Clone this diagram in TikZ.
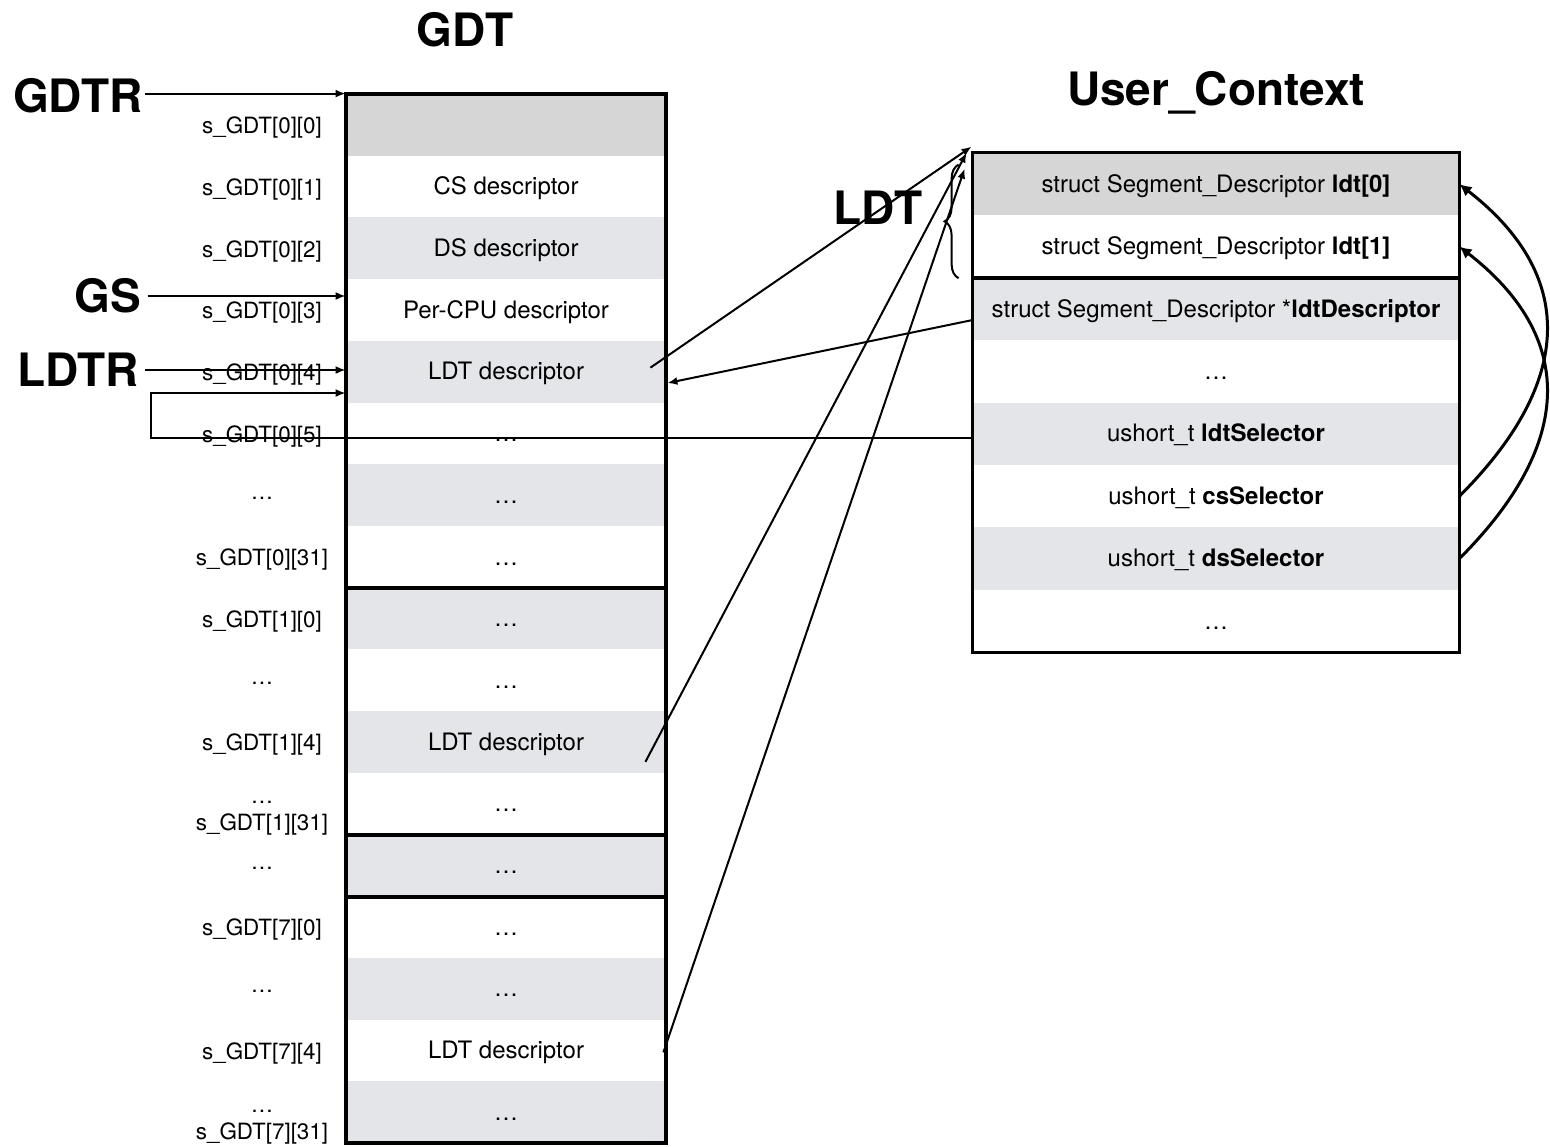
\documentclass[tikz,border=0pt]{standalone}
\usepackage{fontspec}
\setmainfont{TeX Gyre Heros}
\usetikzlibrary{arrows.meta,decorations.pathreplacing,calc}
\definecolor{rowdark}{HTML}{D6D6D6}
\definecolor{rowlight}{HTML}{E4E5E8}
\begin{document}
\begin{tikzpicture}[x=0.5pt,y=-0.5pt,
  gdtcell/.style={minimum width=160pt,minimum height=30.85pt,inner sep=0pt,
    text height=8.3pt,text depth=0pt,font=\fontsize{12}{14}\selectfont},
  ucell/.style={minimum width=243pt,minimum height=31.2pt,inner sep=0pt,
    text height=8pt,text depth=0pt,font=\fontsize{12}{14}\selectfont},
  idx/.style={font=\fontsize{11.2}{13.4}\selectfont,align=center,inner sep=0pt},
  big/.style={font=\fontsize{23}{27}\selectfont\bfseries,inner sep=1pt},
  frame/.style={line width=2pt},
  uframe/.style={line width=1.8pt},
  ptr/.style={line width=1pt,-{Latex[length=5pt,width=4pt]}},
  selarc/.style={line width=1.5pt,-{Latex[length=6pt,width=6pt]}}
]
\useasboundingbox (0,0) rectangle (1550,1146);

% GDT entries
\foreach \i/\col/\txt in {
  0/rowdark/{}, 1/white/CS descriptor, 2/rowlight/DS descriptor,
  3/white/Per-CPU descriptor, 4/rowlight/LDT descriptor, 5/white/…,
  6/rowlight/…, 7/white/…, 8/rowlight/…, 9/white/…,
  10/rowlight/LDT descriptor, 11/white/…, 12/rowlight/…, 13/white/…,
  14/rowlight/…, 15/white/LDT descriptor, 16/rowlight/…}
  \node[gdtcell,fill=\col] (g\i) at (506,{94+61.7*(\i+0.5)}) {\txt};

% GDT indices
\foreach \i/\dy/\txt in {
  0/3/{s\_GDT[0][0]}, 1/3/{s\_GDT[0][1]}, 2/3/{s\_GDT[0][2]},
  3/3/{s\_GDT[0][3]}, 4/3/{s\_GDT[0][4]}, 5/3/{s\_GDT[0][5]},
  6/3/{…}, 7/3/{s\_GDT[0][31]}, 8/3/{s\_GDT[1][0]}, 9/3/{…},
  10/3/{s\_GDT[1][4]}, 11/15/{…\\s\_GDT[1][31]}, 12/3/{…},
  13/3/{s\_GDT[7][0]}, 14/3/{…}, 15/3/{s\_GDT[7][4]},
  16/15/{…\\s\_GDT[7][31]}}
  \node[idx] (l\i) at (262,{94+61.7*(\i+0.5)+\dy}) {\txt};

% GDT frames
\draw[frame] (g0.north west) rectangle (g16.south east);
\draw[frame] (g7.south west) -- (g7.south east);
\draw[frame] (g11.south west) -- (g11.south east);
\draw[frame] (g12.south west) -- (g12.south east);

% User_Context fields
\foreach \i/\col/\txt in {
  0/rowdark/{struct Segment\_Descriptor \textbf{ldt[0]}},
  1/white/{struct Segment\_Descriptor \textbf{ldt[1]}},
  2/rowlight/{struct Segment\_Descriptor *\textbf{ldtDescriptor}},
  3/white/{…},
  4/rowlight/{ushort\_t \textbf{ldtSelector}},
  5/white/{ushort\_t \textbf{csSelector}},
  6/rowlight/{ushort\_t \textbf{dsSelector}},
  7/white/{…}}
  \node[ucell,fill=\col] (u\i) at (1216,{153+62.4*(\i+0.5)}) {\txt};

\draw[uframe] (u0.north west) rectangle (u7.south east);
\draw[uframe] (u1.south west) -- (u1.south east);

% titles and register names
\node[big] (gdttitle) at (465,30) {GDT};
\node[big] (uctitle) at (1216,93) {User\_Context};
\node[big] (gdtr) at (78,96) {GDTR};
\node[big,inner sep=3pt] (gs) at (108,296) {GS};
\node[big,inner sep=3pt] (ldtr) at (78,370) {LDTR};
\node[big] (ldtlbl) at (878,208) {LDT};

% registers pointing into the GDT
\draw[ptr] (gdtr.east |- g0.north west) -- (g0.north west);
\draw[ptr] (gs.east) -- (gs.east -| g3.west);
\draw[ptr] (ldtr.east) -- (ldtr.east -| g4.west);

% ldtSelector loops back into the GDT
\coordinate (loopx) at (151,393);
\draw[ptr] ([yshift=-2pt]u4.west) -| (loopx) -- (loopx -| g4.west);

% LDT descriptors point at the ldt[] array
\draw[ptr] ([xshift=-8pt,yshift=2pt]g4.east) -- ([xshift=-0.5pt,yshift=3pt]u0.north west);
\draw[ptr] ([xshift=-10.5pt,yshift=-10pt]g10.east) -- ([xshift=-3pt]u0.north west);
\draw[ptr] ([xshift=-1.5pt,yshift=-1pt]g15.east) -- ([xshift=-4pt,yshift=-8pt]u0.north west);
\draw[ptr] ([yshift=-5.5pt]u2.west) -- ([xshift=0.5pt,yshift=-5.7pt]g4.east);

% brace over ldt[0..1]
\draw[decorate,decoration={brace,amplitude=7pt},line width=1pt]
  ([xshift=-7pt]u1.south west) -- ([xshift=-7pt,yshift=-6pt]u0.north west);

% selectors refer to ldt entries
\draw[selarc] (u5.east) .. controls ($(u5.east)+(116,-116)$) and ($(u0.east)+(116,90)$) .. (u0.east);
\draw[selarc] (u6.east) .. controls ($(u6.east)+(116,-116)$) and ($(u1.east)+(116,90)$) .. (u1.east);
\end{tikzpicture}
\end{document}
